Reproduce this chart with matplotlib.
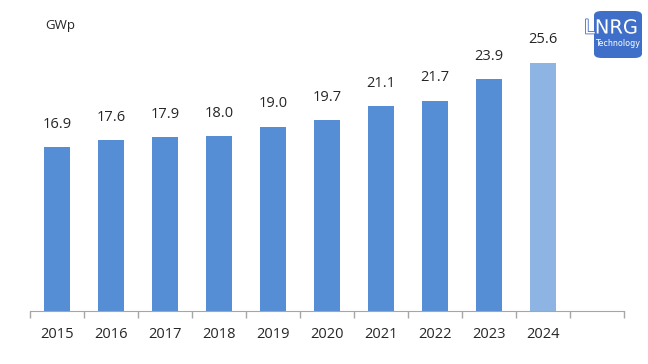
import matplotlib
matplotlib.use("Agg")
import matplotlib.pyplot as plt
import matplotlib.patheffects as pe
from matplotlib.patches import FancyBboxPatch

years = ["2015", "2016", "2017", "2018", "2019", "2020", "2021", "2022", "2023", "2024"]
values = [16.9, 17.6, 17.9, 18.0, 19.0, 19.7, 21.1, 21.7, 23.9, 25.6]
colors = ["#558ED5"] * 9 + ["#8DB4E2"]

plt.rcParams['font.family'] = ['Open Sans', 'DejaVu Sans']

W, H = 648, 364
fig = plt.figure(figsize=(6.48, 3.64), dpi=100)
# axis spans x 30..624 px, baseline at y=311, 30 units ~ 291 px
ax = fig.add_axes([30/W, (H-311)/H, 594/W, 291/H])

n_slots = 11
x = list(range(len(years)))
ax.bar(x, values, width=0.49, color=colors)
for xi, v in zip(x, values):
    ax.annotate(f"{v:.1f}", (xi, v), xytext=(0, 11), textcoords="offset points",
                ha="center", va="bottom", fontsize=10.5, color="#262626")

ax.set_xlim(-0.5, n_slots - 0.5)
ax.set_ylim(0, 30)
ax.set_yticks([])
ax.set_xticks([i - 0.5 for i in range(n_slots + 1)])
ax.set_xticklabels([])
ax.tick_params(axis='x', direction='out', length=5, color="#A6A6A6", width=1)
for xi, yr in zip(x, years):
    ax.text(xi, -23/291, yr, transform=ax.get_xaxis_transform(), ha="center", va="center",
            fontsize=10.5, color="#262626")
for s in ["top", "right", "left"]:
    ax.spines[s].set_visible(False)
ax.spines["bottom"].set_color("#A6A6A6")

fig.text(45/W, 1 - 25/H, "GWp", fontsize=9.5, color="#262626", ha="left", va="center")

# logo
box = FancyBboxPatch((594/W, 1 - 58/H), 48/W, 47/H,
                     boxstyle="round,pad=0,rounding_size=0.012",
                     transform=fig.transFigure, facecolor="#3F6FC8", edgecolor="none")
fig.patches.append(box)
fig.text(611/W, 1 - 28/H, "LNRG", fontsize=14, color="white", ha="center", va="center",
         family=['Liberation Sans Narrow', 'DejaVu Sans'],
         path_effects=[pe.withStroke(linewidth=1.2, foreground="#3F6FC8")])
fig.text(618/W, 1 - 44/H, "Technology", fontsize=5.8, color="white", ha="center", va="center",
         family=['Liberation Sans Narrow', 'DejaVu Sans'])

fig.savefig("out.png", dpi=100)
